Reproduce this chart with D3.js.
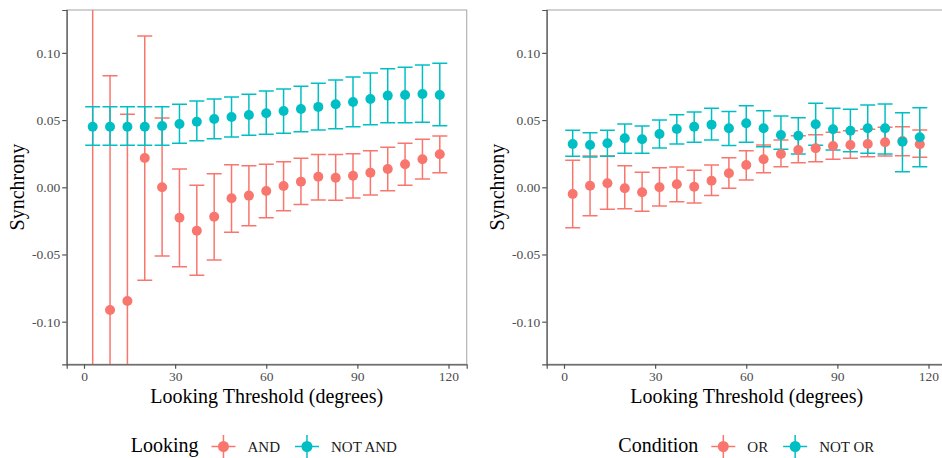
<!DOCTYPE html>
<html>
<head>
<meta charset="utf-8">
<script src="https://cdn.jsdelivr.net/npm/d3@7"></script>
<style>
  html, body { margin: 0; padding: 0; background: #fff; }
  svg { display: block; font-family: "Liberation Serif", "Times New Roman", serif; }
</style>
</head>
<body>
<svg id="chart" width="942" height="458"></svg>
<script>
// Looking thresholds (bin centres, degrees)
const thresholds = [2.86, 8.57, 14.29, 20.00, 25.71, 31.43, 37.14, 42.86, 48.57, 54.29,
  60.00, 65.71, 71.43, 77.14, 82.86, 88.57, 94.29, 100.00, 105.71, 111.43, 117.14];

// Left panel: Looking = AND / NOT AND
const andMean = [-0.200, -0.0913, -0.0846, 0.0218, 0.0000, -0.0226, -0.0323, -0.0219, -0.0082, -0.0062,
  -0.0028, 0.0010, 0.0042, 0.0079, 0.0071, 0.0086, 0.0109, 0.0136, 0.0171, 0.0208, 0.0246];
const andLo = [-0.550, -0.265, -0.223, -0.0692, -0.0511, -0.0591, -0.0655, -0.0541, -0.0335, -0.0286,
  -0.0226, -0.0174, -0.0129, -0.0094, -0.0097, -0.0080, -0.0057, -0.0025, 0.0015, 0.0062, 0.0109];
const andHi = [0.150, 0.0830, 0.0543, 0.1126, 0.0516, 0.0136, 0.0015, 0.0101, 0.0168, 0.0161,
  0.0171, 0.0190, 0.0216, 0.0243, 0.0243, 0.0250, 0.0272, 0.0298, 0.0327, 0.0357, 0.0382];

const notAndMean = [0.0451, 0.0451, 0.0451, 0.0451, 0.0456, 0.0471, 0.0488, 0.0508, 0.0523, 0.0538,
  0.0551, 0.0568, 0.0583, 0.0598, 0.0618, 0.0635, 0.0657, 0.0682, 0.0687, 0.0694, 0.0687];
const notAndLo = [0.0313, 0.0313, 0.0313, 0.0313, 0.0313, 0.0327, 0.0347, 0.0362, 0.0374, 0.0387,
  0.0394, 0.0402, 0.0414, 0.0426, 0.0436, 0.0451, 0.0466, 0.0481, 0.0481, 0.0484, 0.0458];
const notAndHi = [0.0600, 0.0600, 0.0600, 0.0600, 0.0600, 0.0618, 0.0642, 0.0657, 0.0672, 0.0692,
  0.0717, 0.0731, 0.0751, 0.0774, 0.0798, 0.0821, 0.0850, 0.0882, 0.0893, 0.0910, 0.0923];

// Right panel: Condition = OR / NOT OR
const orMean = [-0.0050, 0.0012, 0.0030, -0.0007, -0.0037, 0.0000, 0.0022, 0.0004, 0.0049, 0.0104,
  0.0166, 0.0208, 0.0248, 0.0278, 0.0290, 0.0307, 0.0315, 0.0322, 0.0335, 0.0344, 0.0320];
const orLo = [-0.0301, -0.0211, -0.0164, -0.0159, -0.0179, -0.0139, -0.0107, -0.0117, -0.0062, -0.0007,
  0.0054, 0.0109, 0.0153, 0.0183, 0.0190, 0.0208, 0.0216, 0.0228, 0.0233, 0.0235, 0.0223];
const orHi = [0.0201, 0.0233, 0.0233, 0.0161, 0.0112, 0.0146, 0.0151, 0.0126, 0.0166, 0.0220,
  0.0272, 0.0315, 0.0352, 0.0384, 0.0391, 0.0409, 0.0421, 0.0432, 0.0446, 0.0451, 0.0426];

const notOrMean = [0.0322, 0.0315, 0.0327, 0.0365, 0.0357, 0.0397, 0.0434, 0.0451, 0.0466, 0.0439,
  0.0476, 0.0439, 0.0389, 0.0384, 0.0469, 0.0432, 0.0421, 0.0439, 0.0439, 0.0339, 0.0372];
const notOrLo = [0.0231, 0.0225, 0.0231, 0.0253, 0.0253, 0.0292, 0.0322, 0.0335, 0.0352, 0.0310,
  0.0335, 0.0302, 0.0283, 0.0248, 0.0313, 0.0278, 0.0265, 0.0253, 0.0248, 0.0116, 0.0153];
const notOrHi = [0.0424, 0.0406, 0.0424, 0.0471, 0.0456, 0.0501, 0.0540, 0.0560, 0.0588, 0.0563,
  0.0607, 0.0570, 0.0531, 0.0518, 0.0625, 0.0588, 0.0580, 0.0612, 0.0620, 0.0555, 0.0592];

// Axis ticks
const xTicks = [0, 30, 60, 90, 120];
const yTicks = [-0.10, -0.05, 0.00, 0.05, 0.10];
const yTickLabels = ["-0.10", "-0.05", "0.00", "0.05", "0.10"];

const RED = "#F8766D", TEAL = "#00BFC4";
const SERIF = "'Liberation Serif', 'Times New Roman', serif";

const panels = [
  {
    left: 66.7, legendTitle: "Looking", legendX: 130.7,
    series: [
      { name: "AND", color: RED, mean: andMean, lo: andLo, hi: andHi },
      { name: "NOT AND", color: TEAL, mean: notAndMean, lo: notAndLo, hi: notAndHi }
    ]
  },
  {
    left: 546.7, legendTitle: "Condition", legendX: 618.3,
    series: [
      { name: "OR", color: RED, mean: orMean, lo: orLo, hi: orHi },
      { name: "NOT OR", color: TEAL, mean: notOrMean, lo: notOrLo, hi: notOrHi }
    ]
  }
];

const svg = d3.select("#chart");
const panelTop = 10, plotW = 400, plotH = 354.3;

const x = d3.scaleLinear().domain([-5.7, 126]).range([0, plotW]);
const y = d3.scaleLinear().domain([-0.1317, 0.1319]).range([plotH, 0]);
const capHalf = 7.5;
const defs = svg.append("defs");

panels.forEach((p, pi) => {
  const g = svg.append("g").attr("transform", `translate(${p.left},${panelTop})`);

  const clipId = "clip" + pi;
  defs.append("clipPath").attr("id", clipId)
    .append("rect").attr("x", 0).attr("y", 0).attr("width", plotW).attr("height", plotH);

  // panel border
  g.append("rect").attr("x", 0).attr("y", 0).attr("width", plotW).attr("height", plotH)
    .attr("fill", "none").attr("stroke", "#b3b3b3").attr("stroke-width", 1.2);

  const plot = g.append("g").attr("clip-path", `url(#${clipId})`);

  // error bars, one layer per series
  p.series.forEach(s => {
    const eg = plot.append("g").attr("stroke", s.color).attr("stroke-width", 1.5).attr("fill", "none");
    thresholds.forEach((t, i) => {
      const cx = x(t), y0 = y(s.lo[i]), y1 = y(s.hi[i]);
      eg.append("line").attr("x1", cx).attr("x2", cx).attr("y1", y0).attr("y2", y1);
      eg.append("line").attr("x1", cx - capHalf).attr("x2", cx + capHalf).attr("y1", y0).attr("y2", y0);
      eg.append("line").attr("x1", cx - capHalf).attr("x2", cx + capHalf).attr("y1", y1).attr("y2", y1);
    });
  });
  // points on top
  p.series.forEach(s => {
    plot.append("g").selectAll("circle").data(thresholds).join("circle")
      .attr("cx", d => x(d)).attr("cy", (d, i) => y(s.mean[i])).attr("r", 5)
      .attr("fill", s.color);
  });

  // axes
  const xAxis = g.append("g").attr("transform", `translate(0,${plotH})`)
    .call(d3.axisBottom(x).tickValues(xTicks).tickSize(4.5).tickPadding(2));
  const yAxis = g.append("g")
    .call(d3.axisLeft(y).tickValues(yTicks).tickSize(4.5).tickPadding(2)
      .tickFormat((d, i) => yTickLabels[i]));
  [xAxis, yAxis].forEach(a => {
    a.attr("font-family", SERIF).attr("font-size", 13.5);
    a.select(".domain").attr("stroke", "#555").attr("stroke-width", 1.2);
    a.selectAll(".tick line").attr("stroke", "#555").attr("stroke-width", 1.2);
    a.selectAll(".tick text").attr("fill", "#4d4d4d");
  });
  xAxis.selectAll(".tick text").attr("dy", "0.75em");

  // axis titles
  g.append("text").attr("x", plotW / 2).attr("y", 393)
    .attr("text-anchor", "middle").attr("font-family", SERIF).attr("font-size", 20).attr("fill", "#000")
    .text("Looking Threshold (degrees)");
  g.append("text")
    .attr("transform", `translate(-43,${plotH / 2}) rotate(-90)`)
    .attr("text-anchor", "middle").attr("font-family", SERIF).attr("font-size", 20).attr("fill", "#000")
    .text("Synchrony");

  // legend
  const lg = svg.append("g").attr("font-family", SERIF);
  const title = lg.append("text").attr("x", p.legendX).attr("y", 452)
    .attr("font-size", 20).attr("fill", "#000").text(p.legendTitle);
  let cursor = p.legendX + title.node().getComputedTextLength() + 13;
  p.series.forEach(s => {
    const cx = cursor + 12, cy = 446.5;
    lg.append("line").attr("x1", cx - 12).attr("x2", cx + 12).attr("y1", cy).attr("y2", cy)
      .attr("stroke", s.color).attr("stroke-width", 1.5);
    lg.append("line").attr("x1", cx).attr("x2", cx).attr("y1", cy - 11.5).attr("y2", cy + 11.5)
      .attr("stroke", s.color).attr("stroke-width", 1.5);
    lg.append("circle").attr("cx", cx).attr("cy", cy).attr("r", 5.5).attr("fill", s.color);
    const t = lg.append("text").attr("x", cursor + 36).attr("y", 451.5)
      .attr("font-size", 15).attr("fill", "#1a1a1a").text(s.name);
    cursor = cursor + 36 + t.node().getComputedTextLength() + 15;
  });
});
</script>
</body>
</html>
